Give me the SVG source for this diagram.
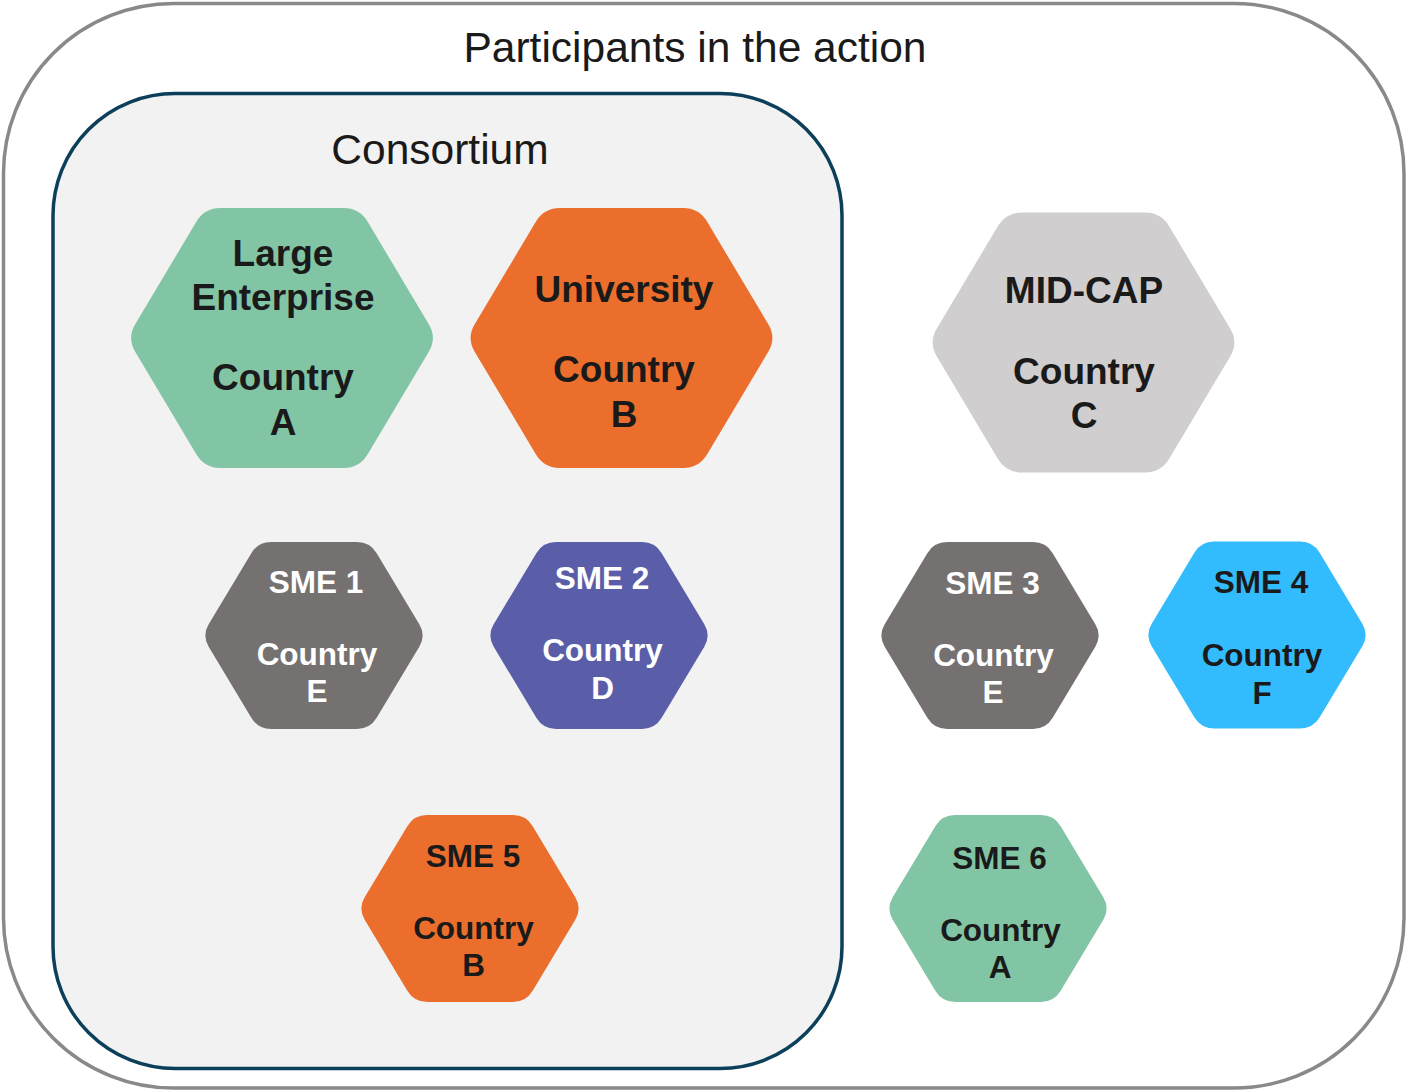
<svg xmlns="http://www.w3.org/2000/svg" xmlns:xlink="http://www.w3.org/1999/xlink" width="1406" height="1091" viewBox="0 0 1406 1091">
<style>
.t{font-family:"Liberation Sans",Arial,sans-serif;text-anchor:middle}
.b{font-weight:bold}
.L{font-size:37px}
.S{font-size:31.5px}
.dk{fill:#1a1a1a}
.wh{fill:#ffffff}
.green{fill:#82c5a5}
.orange{fill:#eb6e2c}
.lgray{fill:#d0cece}
.dgray{fill:#767171}
.purple{fill:#5a5ea8}
.blue{fill:#33bcfd}
</style>
<defs>
<path id="hexL" d="M -61.5,-130 L 61.5,-130 Q 77.5,-130 85.69,-116.26 L 146.81,-13.74 Q 155,0 146.81,13.74 L 85.69,116.26 Q 77.5,130 61.5,130 L -61.5,130 Q -77.5,130 -85.69,116.26 L -146.81,13.74 Q -155,0 -146.81,-13.74 L -85.69,-116.26 Q -77.5,-130 -61.5,-130 Z"/>
<path id="hexS" d="M -43,-93.5 L 43,-93.5 Q 56,-93.5 62.68,-82.35 L 105.32,-11.15 Q 112,0 105.32,11.15 L 62.68,82.35 Q 56,93.5 43,93.5 L -43,93.5 Q -56,93.5 -62.68,82.35 L -105.32,11.15 Q -112,0 -105.32,-11.15 L -62.68,-82.35 Q -56,-93.5 -43,-93.5 Z"/>
</defs>
<rect width="1406" height="1091" fill="#ffffff"/>
<g id="participants">
<rect x="3.5" y="3.5" width="1400.5" height="1084.5" rx="170" ry="170" fill="#ffffff" stroke="#898989" stroke-width="3.5"/>
<text class="t" x="695" y="62" font-size="42.5" fill="#1a1a1a">Participants in the action</text>
</g>
<g id="consortium">
<rect x="53" y="93.5" width="789" height="975" rx="122" ry="122" fill="#f2f2f2" stroke="#0b3f5a" stroke-width="3.5"/>
<text class="t" x="440" y="164" font-size="42.5" fill="#1a1a1a">Consortium</text>
</g>
<g id="connectors"/>
<g id="large-enterprise">
<use xlink:href="#hexL" href="#hexL" class="green" transform="translate(282,338)"/>
<text class="t b L dk" x="283" y="266">Large</text>
<text class="t b L dk" x="283" y="310">Enterprise</text>
<text class="t b L dk" x="283" y="390">Country</text>
<text class="t b L dk" x="283" y="435">A</text>
</g>
<g id="university">
<use xlink:href="#hexL" href="#hexL" class="orange" transform="translate(621.5,338)"/>
<text class="t b L dk" x="624" y="302">University</text>
<text class="t b L dk" x="624" y="382">Country</text>
<text class="t b L dk" x="624" y="427">B</text>
</g>
<g id="mid-cap">
<use xlink:href="#hexL" href="#hexL" class="lgray" transform="translate(1083.5,342.5)"/>
<text class="t b L dk" x="1084" y="303">MID-CAP</text>
<text class="t b L dk" x="1084" y="384">Country</text>
<text class="t b L dk" x="1084" y="428">C</text>
</g>
<g id="sme1">
<use xlink:href="#hexS" href="#hexS" class="dgray" transform="translate(314,635.5)"/>
<text class="t b S wh" x="316" y="593">SME 1</text>
<text class="t b S wh" x="317" y="665">Country</text>
<text class="t b S wh" x="317" y="702">E</text>
</g>
<g id="sme2">
<use xlink:href="#hexS" href="#hexS" class="purple" transform="translate(599,635.5)"/>
<text class="t b S wh" x="602" y="589">SME 2</text>
<text class="t b S wh" x="602.5" y="661">Country</text>
<text class="t b S wh" x="602.5" y="699">D</text>
</g>
<g id="sme3">
<use xlink:href="#hexS" href="#hexS" class="dgray" transform="translate(990,635.5)"/>
<text class="t b S wh" x="992.5" y="594">SME 3</text>
<text class="t b S wh" x="993.5" y="666">Country</text>
<text class="t b S wh" x="993" y="703">E</text>
</g>
<g id="sme4">
<use xlink:href="#hexS" href="#hexS" class="blue" transform="translate(1257,635)"/>
<text class="t b S dk" x="1261" y="593">SME 4</text>
<text class="t b S dk" x="1262" y="666">Country</text>
<text class="t b S dk" x="1262" y="704">F</text>
</g>
<g id="sme5">
<use xlink:href="#hexS" href="#hexS" class="orange" transform="translate(470,908.5)"/>
<text class="t b S dk" x="473" y="867">SME 5</text>
<text class="t b S dk" x="473.5" y="939">Country</text>
<text class="t b S dk" x="473.5" y="976">B</text>
</g>
<g id="sme6">
<use xlink:href="#hexS" href="#hexS" class="green" transform="translate(998,908.5)"/>
<text class="t b S dk" x="999.5" y="869">SME 6</text>
<text class="t b S dk" x="1000.5" y="941">Country</text>
<text class="t b S dk" x="1000" y="978">A</text>
</g>
</svg>
